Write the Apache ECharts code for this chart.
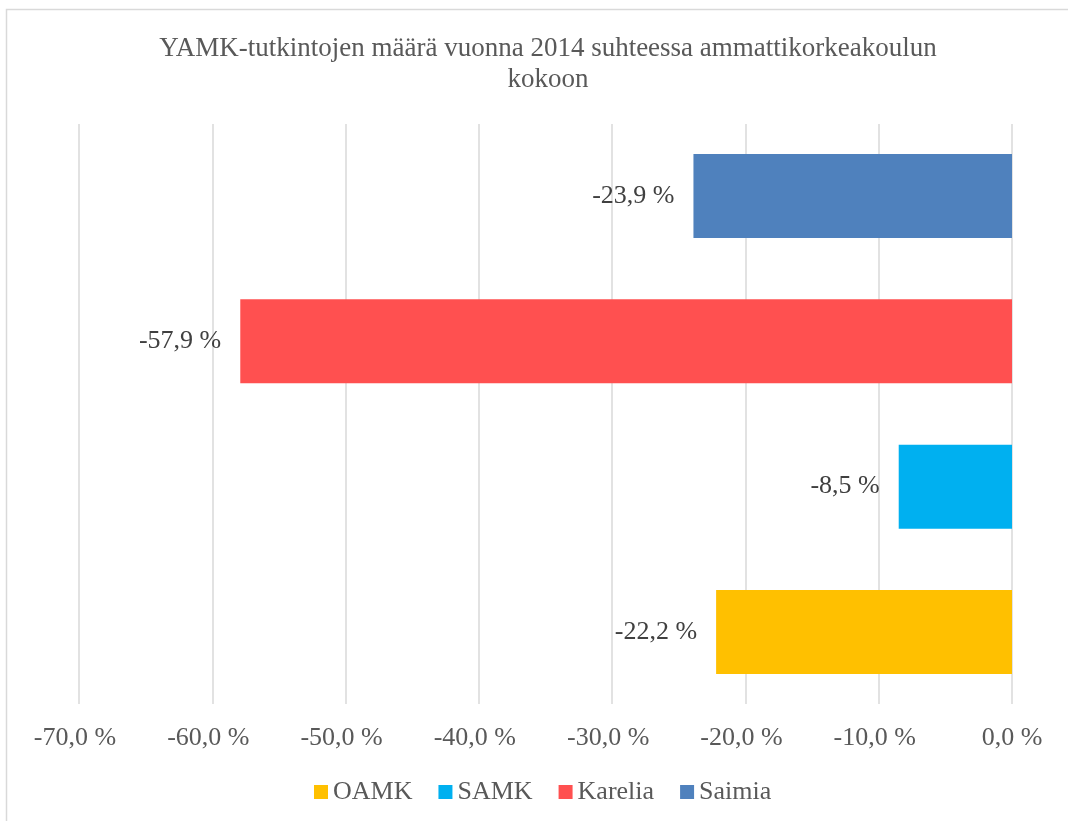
<!DOCTYPE html>
<html>
<head>
<meta charset="utf-8">
<script src="https://cdn.jsdelivr.net/npm/echarts@6/dist/echarts.min.js"></script>
<style>
html, body { margin: 0; padding: 0; background: #fff; }
#main { width: 1068px; height: 821px; }
</style>
</head>
<body>
<div id="main"></div>
<script>
// data
var categories = ['2014'];
var seriesNames = ['OAMK', 'SAMK', 'Karelia', 'Saimia'];
var seriesValues = [-22.2, -8.5, -57.9, -23.9];
var seriesColors = ['#FFC000', '#00B0F0', '#FF5050', '#4F81BD'];
var axisMin = -70, axisMax = 0, axisStep = 10;

var serif = "'Liberation Serif', 'Times New Roman', serif";

function pct(v) {
	return v.toFixed(1).replace('.', ',') + ' %';
}

var myChart = echarts.init(document.getElementById('main'));

// echarts puts the first series of a category at the top, the picture has OAMK at the bottom
var series = [];
for (var i = seriesNames.length - 1; i >= 0; i--) {
	series.push({
		name: seriesNames[i],
		type: 'bar',
		barWidth: 84,
		barGap: '73%',
		itemStyle: { color: seriesColors[i] },
		label: {
			show: true,
			position: 'left',
			distance: 19,
			fontFamily: serif,
			fontSize: 26,
			color: '#404040',
			formatter: function (p) { return pct(p.value); }
		},
		data: [seriesValues[i]]
	});
}

var option = {
	backgroundColor: '#fff',
	animation: false,
	title: {
		text: 'YAMK-tutkintojen määrä vuonna 2014 suhteessa ammattikorkeakoulun\nkokoon',
		left: 543,
		top: 28,
		textAlign: 'center',
		textStyle: {
			fontFamily: serif,
			fontSize: 27,
			fontWeight: 'normal',
			color: '#595959',
			lineHeight: 31
		}
	},
	legend: {
		data: seriesNames,
		top: 774,
		left: 309,
		icon: 'rect',
		itemWidth: 14,
		itemHeight: 14,
		itemGap: 26,
		textStyle: { fontFamily: serif, fontSize: 26, color: '#595959' }
	},
	grid: { left: 79, right: 56, top: 124, bottom: 117 },
	xAxis: {
		type: 'value',
		min: axisMin,
		max: axisMax,
		interval: axisStep,
		axisLine: { show: false },
		axisTick: { show: false },
		splitLine: { lineStyle: { color: '#d9d9d9', width: 1.5 } },
		axisLabel: {
			margin: 21,
			fontFamily: serif,
			fontSize: 26,
			color: '#595959',
			formatter: function (v) {
				return v < 0 ? '{n|' + pct(v) + '}' : pct(v);
			},
			rich: {
				n: { fontFamily: serif, fontSize: 26, color: '#595959', padding: [0, 8, 0, 0] }
			}
		}
	},
	yAxis: {
		type: 'category',
		data: categories,
		axisLine: { show: false },
		axisTick: { show: false },
		axisLabel: { show: false }
	},
	graphic: [{
		type: 'rect',
		shape: { x: 6.5, y: 9.5, width: 1200, height: 1000 },
		style: { fill: 'none', stroke: '#d9d9d9', lineWidth: 1.5 },
		silent: true
	}],
	series: series
};

myChart.setOption(option);
</script>
</body>
</html>
